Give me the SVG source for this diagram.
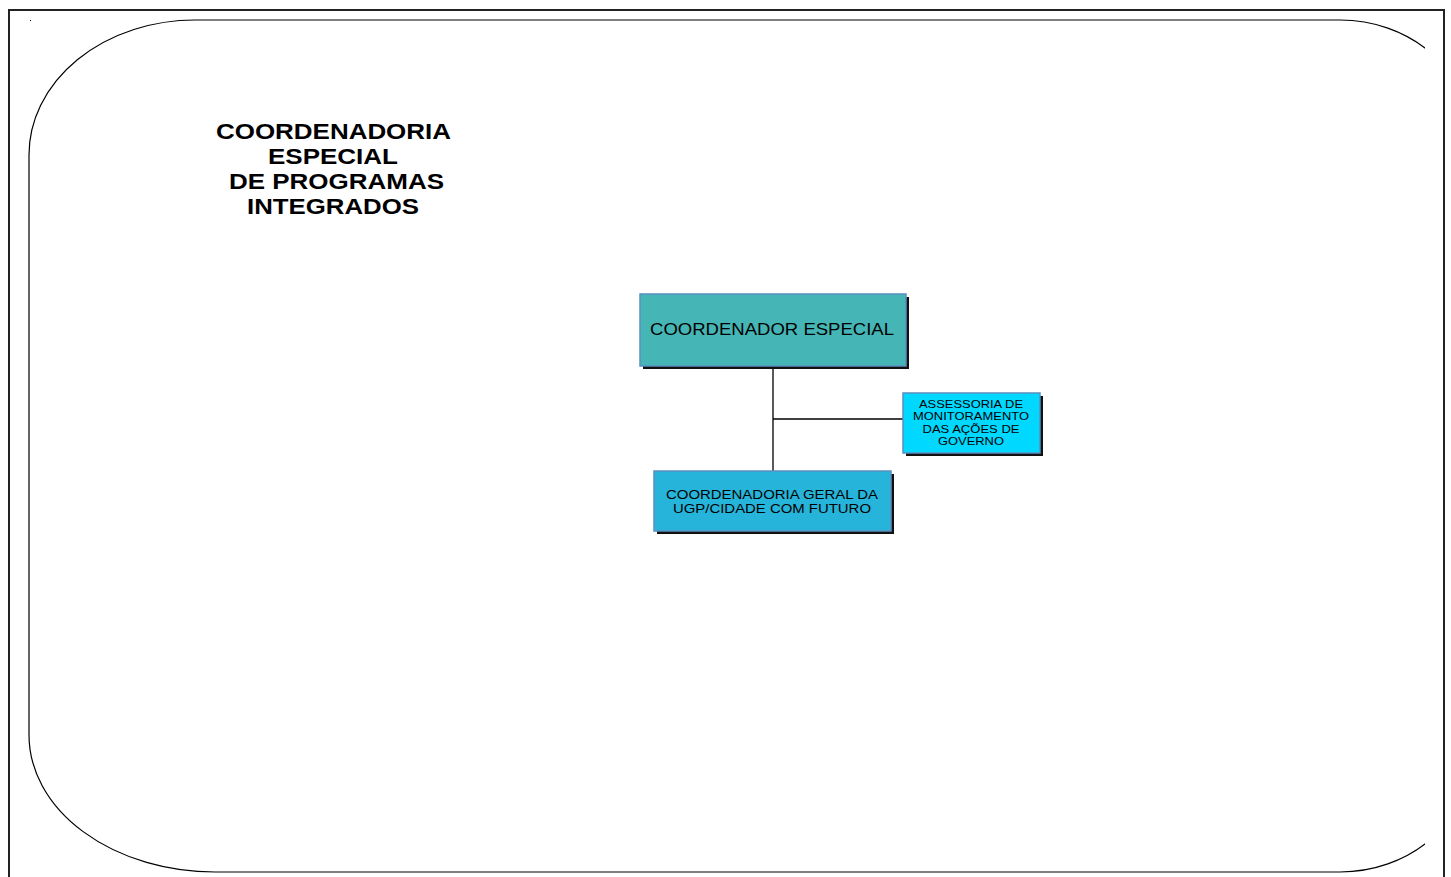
<svg xmlns="http://www.w3.org/2000/svg" width="1451" height="877" viewBox="0 0 1451 877">
<style>
.t{font-family:"Liberation Sans",Arial,sans-serif;fill:#000;text-anchor:middle}
.title{font-weight:bold;font-size:22px}
.box{stroke:#5a8fc0;stroke-width:1.5}
.sh{fill:#111}
.ln{stroke:#000;stroke-width:1.3;fill:none}
</style>
<defs>
<clipPath id="c"><rect x="0" y="0" width="1425" height="877"/></clipPath>
</defs>
<rect x="0" y="0" width="1451" height="877" fill="#fff"/>
<g id="frame">
<path d="M9,890 V10 H1444 V890" fill="none" stroke="#222" stroke-width="2"/>
<path clip-path="url(#c)" d="M29,155 A166,135 0 0 1 195,20 H1340 A130,115 0 0 1 1470,135 V757 A130,115 0 0 1 1340,872 H215 A186,137 0 0 1 29,735 Z" fill="none" stroke="#000" stroke-width="1.2"/>
<rect x="30" y="20" width="1" height="1" fill="#000"/>
</g>
<g id="title">
<text class="t title" x="333.5" y="139" textLength="235" lengthAdjust="spacingAndGlyphs">COORDENADORIA</text>
<text class="t title" x="333" y="164" textLength="130" lengthAdjust="spacingAndGlyphs">ESPECIAL</text>
<text class="t title" x="336.5" y="189" textLength="215" lengthAdjust="spacingAndGlyphs">DE PROGRAMAS</text>
<text class="t title" x="333" y="214" textLength="172" lengthAdjust="spacingAndGlyphs">INTEGRADOS</text>
</g>
<g id="connectors">
<line class="ln" x1="773" y1="366" x2="773" y2="471"/>
<line class="ln" x1="773" y1="419" x2="903" y2="419"/>
</g>
<g id="coordenador">
<rect class="sh" x="643" y="297" width="266" height="72"/>
<rect class="box" x="640" y="294" width="266" height="72" fill="#45b5b5"/>
<text class="t" x="772" y="335" font-size="16.5px" textLength="244" lengthAdjust="spacingAndGlyphs">COORDENADOR ESPECIAL</text>
</g>
<g id="assessoria">
<rect class="sh" x="906" y="396" width="137" height="60"/>
<rect class="box" x="903" y="393" width="137" height="60" fill="#00d8ff"/>
<text class="t" x="971" y="408" font-size="11.5px" textLength="104" lengthAdjust="spacingAndGlyphs">ASSESSORIA DE</text>
<text class="t" x="971" y="420" font-size="11.5px" textLength="116" lengthAdjust="spacingAndGlyphs">MONITORAMENTO</text>
<text class="t" x="971" y="433" font-size="11.5px" textLength="97" lengthAdjust="spacingAndGlyphs">DAS AÇÕES DE</text>
<text class="t" x="971" y="445" font-size="11.5px" textLength="66" lengthAdjust="spacingAndGlyphs">GOVERNO</text>
</g>
<g id="ugp">
<rect class="sh" x="657" y="474" width="237" height="60"/>
<rect class="box" x="654" y="471" width="237" height="60" fill="#26b4da"/>
<text class="t" x="772" y="499" font-size="13.5px" textLength="212" lengthAdjust="spacingAndGlyphs">COORDENADORIA GERAL DA</text>
<text class="t" x="772" y="513" font-size="13.5px" textLength="198" lengthAdjust="spacingAndGlyphs">UGP/CIDADE COM FUTURO</text>
</g>
</svg>
